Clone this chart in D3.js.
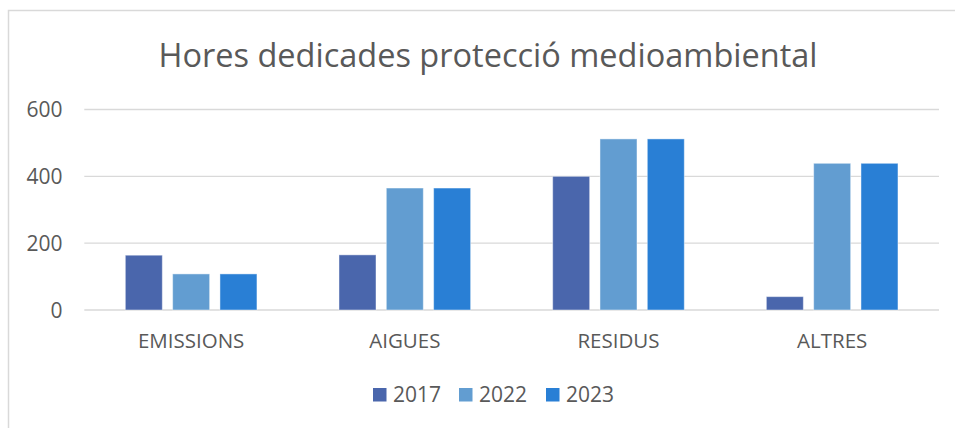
<!DOCTYPE html>
<html>
<head lang="ca">
    <meta charset="UTF-8">
    <title>Hores dedicades protecció medioambiental</title>
    <script type="text/javascript" src="https://cdn.jsdelivr.net/npm/d3@7/dist/d3.min.js"></script>
    <style>
        body { margin: 0; background: #fff; }
        text { font-family: "Open Sans", "Noto Sans", sans-serif; fill: #595959; }
    </style>
</head>
<body>
<div class="holder"></div>

<script>
    var categories = ["EMISSIONS", "AIGUES", "RESIDUS", "ALTRES"];
    var years = ["2017", "2022", "2023"];
    var values2017 = [164, 165, 400, 40];
    var values2022 = [108, 365, 512, 439];
    var values2023 = [108, 365, 512, 439];
    var yTicks = [0, 200, 400, 600];
    var colors = ["#4a66ac", "#629dd1", "#297fd5"];

    var series = [values2017, values2022, values2023];

    var width = 955, height = 428;

    var svg = d3.select(".holder")
            .append("svg")
            .attr("width", width)
            .attr("height", height);

    // chart border (only top and left visible in the crop)
    svg.append("path")
            .attr("d", "M8.5,428 V10.5 H955")
            .attr("fill", "none")
            .attr("stroke", "#d9d9d9")
            .attr("stroke-width", 1.5);

    svg.append("text")
            .attr("x", 488)
            .attr("y", 66.5)
            .attr("text-anchor", "middle")
            .style("font-size", "32.5px")
            .text("Hores dedicades protecció medioambiental");

    var x0 = d3.scaleBand()
            .domain(categories)
            .range([84.3, 939]);

    var x1 = d3.scaleBand()
            .domain(years)
            .range([0, x0.bandwidth()])
            .paddingInner(0.218)
            .paddingOuter(0.867);

    var y = d3.scaleLinear()
            .domain([0, 600])
            .range([310, 109.5]);

    // gridlines
    svg.selectAll("line.grid")
            .data(yTicks)
            .enter()
            .append("line")
            .attr("class", "grid")
            .attr("x1", 84.3)
            .attr("x2", 939)
            .attr("y1", function(d) {return y(d);})
            .attr("y2", function(d) {return y(d);})
            .attr("stroke", "#d9d9d9")
            .attr("stroke-width", 1.4);

    // y labels
    svg.selectAll("text.ytick")
            .data(yTicks)
            .enter()
            .append("text")
            .attr("class", "ytick")
            .attr("x", 62.5)
            .attr("y", function(d) {return y(d) + 7.7;})
            .attr("text-anchor", "end")
            .style("font-size", "21px")
            .text(function(d) {return d;});

    // bars
    var groups = svg.selectAll("g.cat")
            .data(categories)
            .enter()
            .append("g")
            .attr("class", "cat")
            .attr("transform", function(d) {return "translate(" + x0(d) + ",0)";});

    groups.selectAll("rect")
            .data(function(d, i) {
                return years.map(function(yr, j) {return {year: yr, value: series[j][i], idx: j};});
            })
            .enter()
            .append("rect")
            .attr("x", function(d) {return x1(d.year);})
            .attr("y", function(d) {return y(d.value);})
            .attr("width", x1.bandwidth())
            .attr("height", function(d) {return y(0) - y(d.value);})
            .attr("fill", function(d) {return colors[d.idx];})
            .attr("stroke", "#ffffff")
            .attr("stroke-opacity", 0.45)
            .attr("stroke-width", 1);

    // category labels
    svg.selectAll("text.xtick")
            .data(categories)
            .enter()
            .append("text")
            .attr("class", "xtick")
            .attr("x", function(d) {return x0(d) + x0.bandwidth() / 2;})
            .attr("y", 348.3)
            .attr("text-anchor", "middle")
            .style("font-size", "20.5px")
            .text(function(d) {return d;});

    // legend
    var legendX = [373, 459, 546];
    var legend = svg.selectAll("g.legend")
            .data(years)
            .enter()
            .append("g")
            .attr("class", "legend")
            .attr("transform", function(d, i) {return "translate(" + legendX[i] + ",388)";});

    legend.append("rect")
            .attr("width", 13.5)
            .attr("height", 13.5)
            .attr("fill", function(d, i) {return colors[i];});

    legend.append("text")
            .attr("x", 20)
            .attr("y", 14.3)
            .style("font-size", "21px")
            .text(function(d) {return d;});
</script>
</body>
</html>
